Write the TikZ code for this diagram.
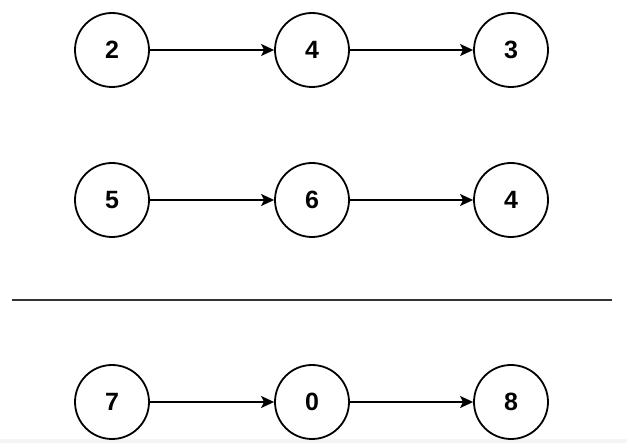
\documentclass[tikz,border=0pt]{standalone}
\usepackage{fontspec}
\setmainfont{Liberation Sans}
\usetikzlibrary{arrows.meta}
\begin{document}
\begin{tikzpicture}[x=1pt,y=-1pt,
  numnode/.style={circle,draw=black,line width=1.8pt,minimum size=74pt,inner sep=0pt,font=\bfseries\fontsize{25}{30}\selectfont},
  link/.style={line width=1.5pt,-{Stealth[length=13pt,width=12pt,inset=3pt]}},
  sep/.style={line width=2.2pt,draw={black!80}}]
\useasboundingbox (0,0) rectangle (627,443);
\fill[black!4] (0,439) rectangle (627,443);
\node[numnode] (a1) at (112,50) {2};
\node[numnode] (a2) at (312,50) {4};
\node[numnode] (a3) at (511,50) {3};
\node[numnode] (b1) at (112,200) {5};
\node[numnode] (b2) at (312,200) {6};
\node[numnode] (b3) at (511,200) {4};
\node[numnode] (c1) at (112,402) {7};
\node[numnode] (c2) at (312,402) {0};
\node[numnode] (c3) at (511,402) {8};
\draw[link] (a1) -- (a2);
\draw[link] (a2) -- (a3);
\draw[link] (b1) -- (b2);
\draw[link] (b2) -- (b3);
\draw[link] (c1) -- (c2);
\draw[link] (c2) -- (c3);
\coordinate (l1) at (12,300);
\coordinate (l2) at (612,300);
\draw[sep] (l1) -- (l2);
\end{tikzpicture}
\end{document}
